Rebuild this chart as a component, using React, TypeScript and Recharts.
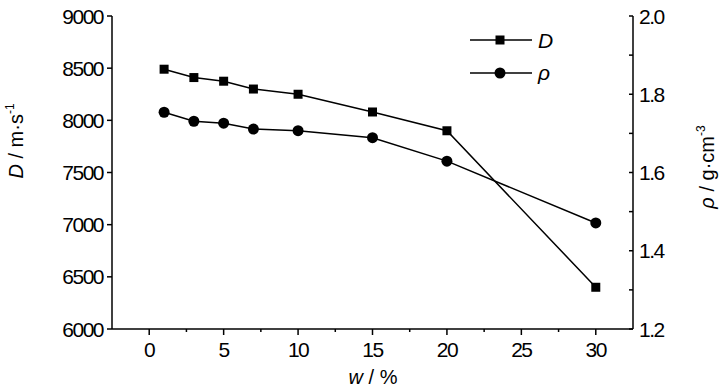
import React from "react";
import { LineChart, Line, XAxis, YAxis } from "recharts";

const wValues = [1, 3, 5, 7, 10, 15, 20, 30];
const dValues = [8490, 8410, 8375, 8300, 8250, 8080, 7900, 6400];
const rhoValues = [1.754, 1.731, 1.726, 1.711, 1.707, 1.689, 1.629, 1.471];

const xTicks = [0, 2.5, 5, 7.5, 10, 12.5, 15, 17.5, 20, 22.5, 25, 27.5, 30];
const dTicks = [6000, 6500, 7000, 7500, 8000, 8500, 9000];
const rhoTicks = [1.2, 1.3, 1.4, 1.5, 1.6, 1.7, 1.8, 1.9, 2.0];

const seriesNames = ["D", "ρ"];

const data = wValues.map((w, i) => ({ w, D: dValues[i], rho: rhoValues[i] }));

const FONT = "'Liberation Sans', Arial, sans-serif";
const TICK_FS = 21;
const TICK_LS = -1.5;

const XTick = (props: any) => {
  const { x, y, payload } = props;
  const v = payload.value as number;
  const major = Math.abs(v % 5) < 1e-6;
  return (
    <g>
      <line x1={x} x2={x} y1={y} y2={y + (major ? 6 : 3)} stroke="#000" strokeWidth={1.5} />
      {major && (
        <text x={x} y={y + 28} textAnchor="middle" fontSize={TICK_FS} fontFamily={FONT} fill="#000" letterSpacing={TICK_LS}>
          {String(v)}
        </text>
      )}
    </g>
  );
};

const LeftTick = (props: any) => {
  const { x, y, payload } = props;
  return (
    <g>
      <line x1={x - 5} x2={x} y1={y} y2={y} stroke="#000" strokeWidth={1.5} />
      <text x={x - 9} y={y + 7.5} textAnchor="end" fontSize={TICK_FS} fontFamily={FONT} fill="#000" letterSpacing={TICK_LS}>
        {String(payload.value)}
      </text>
    </g>
  );
};

const RightTick = (props: any) => {
  const { x, y, payload } = props;
  const v = payload.value as number;
  const major = Math.round(v * 10) % 2 === 0;
  return (
    <g>
      <line x1={x - 4} x2={x} y1={y} y2={y} stroke="#000" strokeWidth={1.5} />
      {major && (
        <text x={x + 6} y={y + 7.5} textAnchor="start" fontSize={TICK_FS} fontFamily={FONT} fill="#000" letterSpacing={TICK_LS}>
          {v.toFixed(1)}
        </text>
      )}
    </g>
  );
};

const SquareDot = (props: any) => {
  const { cx, cy } = props;
  if (cx == null || cy == null) return null;
  return <rect x={cx - 4.5} y={cy - 4.5} width={9} height={9} fill="#000" />;
};

const CircleDot = (props: any) => {
  const { cx, cy } = props;
  if (cx == null || cy == null) return null;
  return <circle cx={cx} cy={cy} r={5.5} fill="#000" />;
};

const LeftLabel = () => (
  <text x={0} y={0} transform="translate(23,141) rotate(-90)" textAnchor="middle" fontSize={20} fontFamily={FONT} fill="#000">
    <tspan fontStyle="italic">D</tspan>
    <tspan> / m·s</tspan>
    <tspan fontSize={12} dy={-9}>-1</tspan>
  </text>
);

const RightLabel = () => (
  <text x={0} y={0} transform="translate(714,167) rotate(-90)" textAnchor="middle" fontSize={20} fontFamily={FONT} fill="#000">
    <tspan fontStyle="italic">ρ</tspan>
    <tspan> / g·cm</tspan>
    <tspan fontSize={12} dy={-9}>-3</tspan>
  </text>
);

const XLabel = () => (
  <text x={373} y={384} textAnchor="middle" fontSize={20} fontFamily={FONT} fill="#000">
    <tspan fontStyle="italic">w</tspan>
    <tspan> / %</tspan>
  </text>
);

const LegendOverlay = () => (
  <svg width={130} height={80} style={{ position: "absolute", left: 460, top: 25, overflow: "visible" }}>
    <line x1={10} x2={72} y1={15} y2={15} stroke="#000" strokeWidth={1.5} />
    <rect x={35.5} y={10.5} width={9} height={9} fill="#000" />
    <text x={78} y={23} fontSize={21} fontStyle="italic" fontFamily={FONT} fill="#000">{seriesNames[0]}</text>
    <line x1={10} x2={72} y1={48} y2={48} stroke="#000" strokeWidth={1.5} />
    <circle cx={40} cy={48} r={5.5} fill="#000" />
    <text x={78} y={55} fontSize={21} fontStyle="italic" fontFamily={FONT} fill="#000">{seriesNames[1]}</text>
  </svg>
);

export default function App() {
  return (
    <div style={{ position: "absolute", left: 0, top: 0, width: 728, height: 389, background: "#fff" }}>
      <LineChart width={728} height={389} data={data} margin={{ top: 16, right: 0, bottom: 0, left: 0 }}>
        <XAxis
          dataKey="w"
          type="number"
          domain={[-2.5, 32.5]}
          ticks={xTicks}
          interval={0}
          height={60}
          tickSize={0}
          tickMargin={0}
          tickLine={false}
          tick={<XTick />}
          axisLine={{ stroke: "#000", strokeWidth: 1.5 }}
          label={<XLabel />}
          allowDataOverflow
        />
        <YAxis
          yAxisId="left"
          orientation="left"
          width={112}
          domain={[6000, 9000]}
          ticks={dTicks}
          interval={0}
          tickSize={0}
          tickMargin={0}
          tickLine={false}
          tick={<LeftTick />}
          axisLine={{ stroke: "#000", strokeWidth: 1.5 }}
          label={<LeftLabel />}
        />
        <YAxis
          yAxisId="right"
          orientation="right"
          width={95}
          domain={[1.2, 2.0]}
          ticks={rhoTicks}
          interval={0}
          tickSize={0}
          tickMargin={0}
          tickLine={false}
          tick={<RightTick />}
          axisLine={{ stroke: "#000", strokeWidth: 1.5 }}
          label={<RightLabel />}
        />
        <Line
          yAxisId="left"
          dataKey="D"
          name={seriesNames[0]}
          stroke="#000"
          strokeWidth={1.5}
          dot={<SquareDot />}
          activeDot={false}
          isAnimationActive={false}
        />
        <Line
          yAxisId="right"
          dataKey="rho"
          name={seriesNames[1]}
          stroke="#000"
          strokeWidth={1.5}
          dot={<CircleDot />}
          activeDot={false}
          isAnimationActive={false}
        />
      </LineChart>
      <LegendOverlay />
    </div>
  );
}
